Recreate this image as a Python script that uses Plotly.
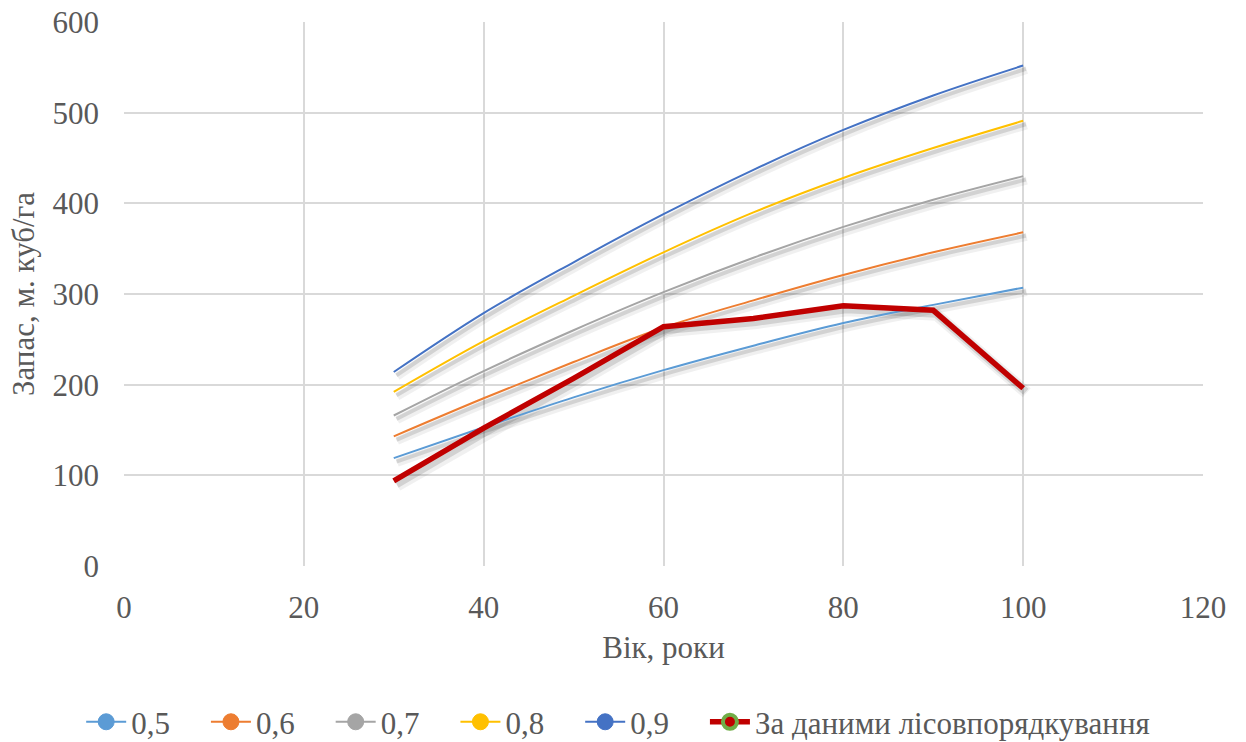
import plotly.graph_objects as go

ages = [30, 40, 50, 60, 70, 80, 90, 100]
s05 = [119, 153, 186, 216, 243, 268, 288, 307]
s06 = [143, 185, 225, 263, 293, 321, 346, 368]
s07 = [166, 215, 260, 302, 340, 374, 404, 430]
s08 = [192, 248, 298, 346, 390, 428, 461, 491]
s09 = [214, 279, 335, 388, 437, 481, 519, 552]
inv = [94, 152, 207, 264, 273, 287, 282, 196]

names = ["0,5", "0,6", "0,7", "0,8", "0,9"]
series = [s05, s06, s07, s08, s09]
colors = ["#5B9BD5", "#ED7D31", "#A5A5A5", "#FFC000", "#4472C4"]
inv_name = "За даними лісовпорядкування"
inv_color = "#C00000"
inv_marker_border = "#70AD47"

font_family = "Liberation Serif"
text_color = "#595959"
fs = 31
pad = "\u00a0" * 4

fig = go.Figure()

# soft drop shadows (derived from data)
for dx, dy, w, a in [(0.4, -5.0, 8, 0.06), (0.3, -3.8, 4, 0.12)]:
    for ys in series:
        fig.add_trace(go.Scatter(x=[v + dx for v in ages], y=[v + dy for v in ys], mode="lines",
                                 line=dict(color=f"rgba(0,0,0,{a})", width=w, shape="spline"),
                                 showlegend=False, hoverinfo="skip"))
    fig.add_trace(go.Scatter(x=[v + dx for v in ages], y=[v + dy for v in inv], mode="lines",
                             line=dict(color=f"rgba(0,0,0,{a})", width=w + 4),
                             showlegend=False, hoverinfo="skip"))

for n, ys, c in zip(names, series, colors):
    fig.add_trace(go.Scatter(x=ages, y=ys, mode="lines", name=n,
                             line=dict(color=c, width=2, shape="spline"),
                             showlegend=False))
fig.add_trace(go.Scatter(x=ages, y=inv, mode="lines", name=inv_name,
                         line=dict(color=inv_color, width=5.5),
                         showlegend=False))

# legend entries
for n, c in zip(names, colors):
    fig.add_trace(go.Scatter(x=[None], y=[None], mode="lines+markers", name=n + pad,
                             line=dict(color=c, width=2),
                             marker=dict(color=c, size=16, line=dict(color=c, width=1))))
fig.add_trace(go.Scatter(x=[None], y=[None], mode="lines+markers", name=inv_name,
                         line=dict(color=inv_color, width=5.5),
                         marker=dict(color=inv_color, size=14, line=dict(color=inv_marker_border, width=4))))

fig.update_layout(
    width=1246, height=742,
    margin=dict(l=124, r=43, t=22, b=176, autoexpand=False),
    paper_bgcolor="white", plot_bgcolor="white",
    font=dict(family=font_family, size=fs, color=text_color),
    xaxis=dict(range=[0, 120], dtick=20, showgrid=True, gridcolor="#D9D9D9", gridwidth=1.5,
               zeroline=False, showline=False, ticks="", ticklabelstandoff=20, automargin=False,
               tickfont=dict(family=font_family, size=fs, color=text_color),
               title=dict(text="Вік, роки", font=dict(family=font_family, size=fs, color=text_color), standoff=12)),
    yaxis=dict(range=[0, 600], dtick=100, showgrid=True, gridcolor="#D9D9D9", gridwidth=1.5,
               zeroline=False, showline=False, ticks="", ticklabelstandoff=24, automargin=False,
               tickfont=dict(family=font_family, size=fs, color=text_color),
               title=dict(text="Запас, м. куб/га", font=dict(family=font_family, size=fs, color=text_color), standoff=8)),
    legend=dict(orientation="h", x=0.458, xanchor="center", y=-0.287, yanchor="middle",
                font=dict(family=font_family, size=fs, color=text_color), itemwidth=40,
                tracegroupgap=0),
    showlegend=True,
)

fig.write_html("out.html")
